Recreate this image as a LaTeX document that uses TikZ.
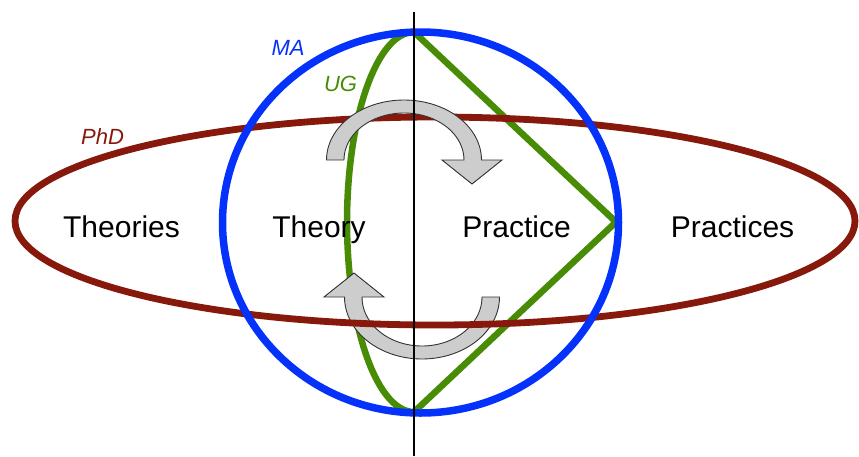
\documentclass[tikz,border=0pt]{standalone}
\usepackage{fontspec}
\setmainfont{Liberation Sans}
\definecolor{phdred}{RGB}{135,24,12}
\definecolor{mablue}{RGB}{5,50,250}
\definecolor{uggreen}{RGB}{72,140,5}
\definecolor{arrowgray}{RGB}{205,205,205}
\begin{document}
\begin{tikzpicture}[x=1pt,y=-1pt,
  lbl/.style={font=\fontsize{30}{36}\selectfont, anchor=base, inner sep=0pt},
  tag/.style={font=\fontsize{22}{26}\selectfont\itshape, anchor=base, inner sep=0pt},
  cyc/.style={fill=arrowgray, draw=black!80, line width=0.9pt, line join=miter}]
\useasboundingbox (0,0) rectangle (859,456);
% green UG shape
\draw[uggreen, line width=6.5pt, line join=miter]
  (414,32) -- (616,222) -- (414,412)
  plot[domain=90:270, samples=60] ({414+67*cos(\x)},{222+190*sin(\x)});
% bottom arrow
\path[cyc] plot[domain=0:180, samples=50] ({422+77.5*cos(\x)},{297+62*sin(\x)})
  -- (324,297) -- (354,273) -- (384,297)
  -- plot[domain=180:0, samples=50] ({422+60*cos(\x)},{297+49*sin(\x)}) -- cycle;
% PhD ellipse
\draw[phdred, line width=6.8pt] (435,221) ellipse[x radius=420, y radius=104];
% MA circle
\draw[mablue, line width=7.5pt] (420.5,222.5) ellipse[x radius=198, y radius=190.5];
% top arrow
\path[cyc] plot[domain=180:360, samples=50] ({404+77.5*cos(\x)},{160+60*sin(\x)})
  -- (502,160) -- (472,184) -- (442,160)
  -- plot[domain=360:180, samples=50] ({404+60*cos(\x)},{160+47*sin(\x)}) -- cycle;
% vertical line
\coordinate (vtop) at (414,12);
\coordinate (vbot) at (414,456);
\draw[black, line width=1.2pt] (vtop) -- (vbot);
% labels
\node[lbl] (theories) at (121.5,237) {Theories};
\node[lbl] (theory) at (319,237) {Theory};
\node[lbl] (practice) at (516.5,237) {Practice};
\node[lbl] (practices) at (732.5,237) {Practices};
\node[tag, text=mablue] (ma) at (288,55) {MA};
\node[tag, text=uggreen] (ug) at (340.5,91) {UG};
\node[tag, text=phdred] (phd) at (102.5,144) {PhD};
\end{tikzpicture}
\end{document}
